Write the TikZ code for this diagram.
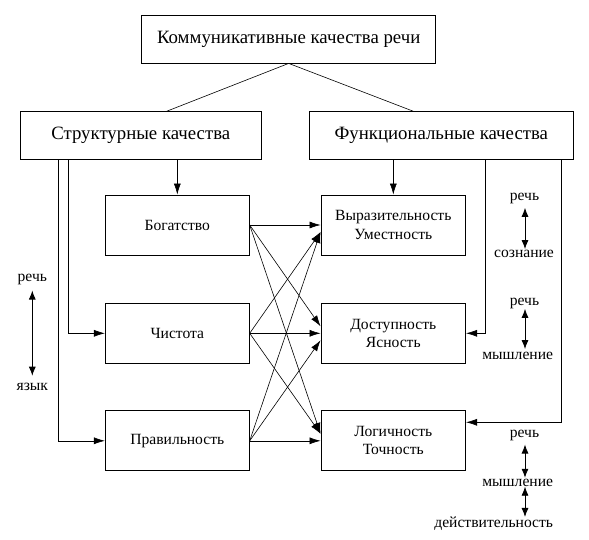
\documentclass[tikz,border=0pt]{standalone}
\usepackage{fontspec}
\setmainfont{Liberation Serif}
\usetikzlibrary{arrows.meta}
\begin{document}
\begin{tikzpicture}[x=1pt,y=-1pt,
  box/.style={draw, line width=0.8pt, inner sep=0pt, align=center},
  big/.style={font=\fontsize{18.8}{22}\selectfont},
  small/.style={font=\fontsize{15.6}{18.3}\selectfont},
  lab/.style={font=\fontsize{15.6}{18}\selectfont, inner sep=0pt},
  ln/.style={line width=0.6pt},
  arr/.style={line width=0.6pt, -{Latex[length=11pt,width=7pt]}},
  dbl/.style={line width=0.8pt, {Latex[length=9pt,width=7pt]}-{Latex[length=9pt,width=7pt]}}]
\useasboundingbox (0,0) rectangle (589,540);
% boxes
\node[box,big,minimum width=294pt,minimum height=48pt] (top) at (288.7,39) {Коммуникативные качества речи};
\node[box,big,minimum width=240.3pt,minimum height=47.3pt] (struct) at (140.8,135.3) {Структурные качества};
\node[box,big,minimum width=264pt,minimum height=47.3pt] (func) at (441.3,135.3) {Функциональные качества};
\node[box,small,minimum width=144pt,minimum height=60pt] (bog) at (177.3,225) {Богатство};
\node[box,small,minimum width=144pt,minimum height=60pt] (chi) at (177.3,333.3) {Чистота};
\node[box,small,minimum width=144pt,minimum height=60pt] (pra) at (177.3,440.8) {Правильность};
\node[box,small,minimum width=144.7pt,minimum height=60pt] (vyr) at (393.3,225) {Выразительность\\Уместность};
\node[box,small,minimum width=144.7pt,minimum height=60pt] (dos) at (393.3,333.3) {Доступность\\Ясность};
\node[box,small,minimum width=144.7pt,minimum height=60pt] (log) at (393.3,440.8) {Логичность\\Точность};
% helper coordinates
\coordinate (sl) at (166.7,0);
\coordinate (fr) at (413.3,0);
\coordinate (sa) at (68.3,0);
\coordinate (sb) at (58.3,0);
\coordinate (fa) at (485,0);
\coordinate (fb) at (561.7,0);
\coordinate (login) at ([yshift=18.5pt]log.east);
% top connectors
\draw[ln] (top.south) -- (struct.north -| sl);
\draw[ln] (top.south) -- (func.north -| fr);
% structural
\draw[arr] (struct.south -| bog.north) -- (bog.north);
\draw[arr] (struct.south -| sa) |- (chi.west);
\draw[arr] (struct.south -| sb) |- (pra.west);
% functional
\draw[arr] (func.south -| vyr.north) -- (vyr.north);
\draw[arr] (func.south -| fa) |- (dos.east);
\draw[arr] (func.south -| fb) |- (login);
% cross arrows
\foreach \s/\si in {bog/1,chi/2,pra/3}{
  \foreach \t/\ti in {vyr/1,dos/2,log/3}{
    \pgfmathsetmacro{\off}{ifthenelse(\si==\ti,0,ifthenelse(\si<\ti,7,-7))}
    \draw[arr] (\s.east) -- ([yshift=\off pt]\t.west);
  }
}
% side labels
\coordinate (ax) at (525,0);
\node[lab] (r1) at (32.3,279) {речь};
\node[lab] (y1) at (32.3,386.7) {язык};
\draw[dbl, shorten <=6pt, shorten >=7pt] (r1) -- (y1);
\node[lab] (r2) at (524.5,198.3) {речь};
\node[lab] (s2) at (524,254) {сознание};
\draw[dbl] (r2.south -| ax) ++(0,4) -- ([yshift=1pt]s2.north -| ax);
\node[lab] (r3) at (524.5,303.3) {речь};
\node[lab] (m3) at (517.7,356) {мышление};
\draw[dbl] (r3.south -| ax) ++(0,0) -- ([yshift=3pt]m3.north -| ax);
\node[lab] (r4) at (524.5,435) {речь};
\node[lab] (m4) at (517.7,482.7) {мышление};
\node[lab] (d4) at (493.7,524) {действительность};
\draw[dbl] (r4.south -| ax) ++(0,4) -- ([yshift=1pt]m4.north -| ax);
\draw[dbl] (m4.south -| ax) -- (d4.north -| ax);
\end{tikzpicture}
\end{document}
